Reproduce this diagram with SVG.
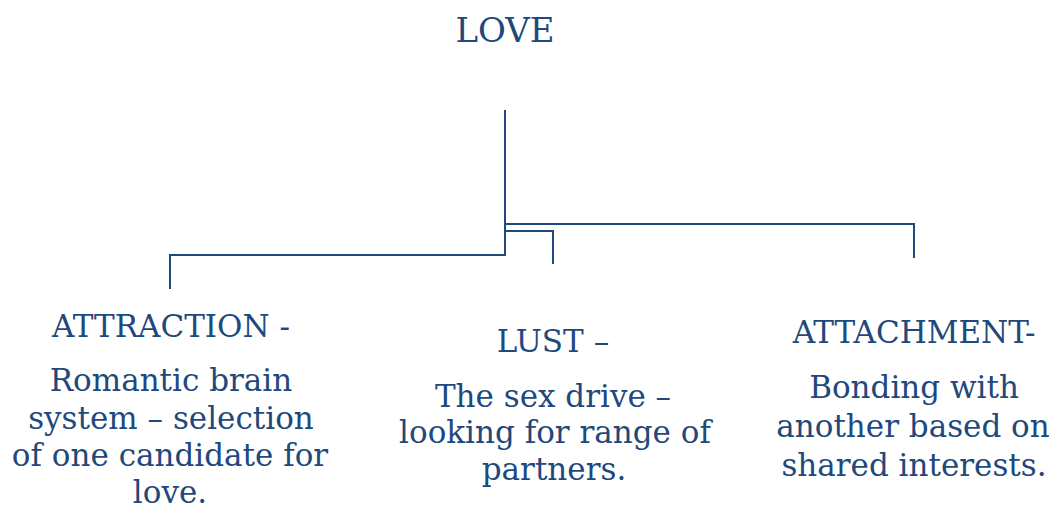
<svg xmlns="http://www.w3.org/2000/svg" width="1056" height="514" viewBox="0 0 1056 514">
<style>
.t{font-family:"DejaVu Serif","Liberation Serif",serif;fill:#1f497d;text-anchor:middle}
.h{font-size:31px}
.b{font-size:31px}
.c{fill:none;stroke:#1f497d;stroke-width:2}
</style>
<rect width="1056" height="514" fill="#fff"/>
<g id="love"><text class="t" x="505" y="42" font-size="34">LOVE</text></g>
<g id="connectors">
<path class="c" d="M505,110 V255 H170 V289"/>
<path class="c" d="M505,224 H914 V258"/>
<path class="c" d="M505,231 H553 V264"/>
</g>
<g id="attraction">
<text class="t h" x="171" y="337">ATTRACTION -</text>
<text class="t b" x="171" y="391">Romantic brain</text>
<text class="t b" x="171" y="429">system – selection</text>
<text class="t b" x="170" y="466">of one candidate for</text>
<text class="t b" x="170" y="503">love.</text>
</g>
<g id="lust">
<text class="t h" x="553" y="352">LUST –</text>
<text class="t b" x="553" y="407">The sex drive –</text>
<text class="t b" x="555" y="443">looking for range of</text>
<text class="t b" x="554" y="480">partners.</text>
</g>
<g id="attachment">
<text class="t h" x="914" y="343">ATTACHMENT-</text>
<text class="t b" x="914" y="398">Bonding with</text>
<text class="t b" x="913" y="437">another based on</text>
<text class="t b" x="914" y="476">shared interests.</text>
</g>
</svg>
